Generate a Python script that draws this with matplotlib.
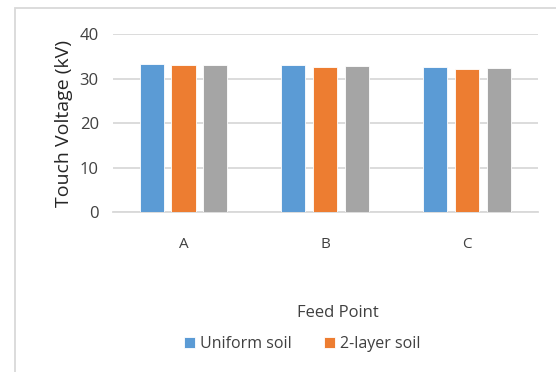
import matplotlib.pyplot as plt
import numpy as np
from matplotlib.patches import Rectangle

# dados
feed_points = ['A', 'B', 'C']
uniform_soil = [33.3, 33.1, 32.6]
two_layer_soil = [33.1, 32.6, 32.1]
third_series = [33.1, 32.8, 32.3]
series_names = ['Uniform soil', '2-layer soil', '']

cores = ['#5B9BD5', '#ED7D31', '#A5A5A5']
cinza_txt = '#404040'

plt.rcParams['font.family'] = ['Open Sans', 'DejaVu Sans']

fig = plt.figure(figsize=(5.56, 3.72), dpi=100)
ax = fig.add_axes([0.2027, 0.4301, 0.7644, 0.4785])

x = np.arange(len(feed_points))
largura = 0.17
passo = 0.225
barras = []
for i, (vals, nome) in enumerate(zip([uniform_soil, two_layer_soil, third_series], series_names)):
    b = ax.bar(x + (i - 1) * passo, vals, largura, color=cores[i],
               edgecolor='white', linewidth=0.6, label=nome, zorder=3)
    barras.append(b)

ax.set_xlim(-0.5, len(feed_points) - 0.5)
ax.set_ylim(0, 40)
ax.set_yticks([0, 10, 20, 30, 40])
ax.yaxis.grid(True, color='#d9d9d9', linewidth=1.3, zorder=0)
for s in ['top', 'right', 'left']:
    ax.spines[s].set_visible(False)
ax.spines['bottom'].set_color('#d9d9d9')
ax.spines['bottom'].set_linewidth(1.3)
ax.tick_params(axis='both', length=0, colors=cinza_txt)
ax.tick_params(axis='y', labelsize=12, pad=10)
ax.tick_params(axis='x', labelsize=11, pad=18)
ax.set_xticks(x)
ax.set_xticklabels(feed_points)

ax.set_ylabel('Touch Voltage (kV)', fontsize=14, color='#262626', labelpad=5)
fig.text(338 / 556, 1 - 313 / 372, 'Feed Point', ha='center', va='center',
         fontsize=12, color=cinza_txt)

fig.legend(handles=barras[:2], labels=series_names[:2], loc='center',
           bbox_to_anchor=(302 / 556, 1 - 344 / 372), ncol=2, frameon=False,
           fontsize=11.5, handlelength=0.7, handleheight=0.7, handletextpad=0.3,
           columnspacing=2.0, labelcolor=cinza_txt)

# moldura do gráfico (só topo e esquerda visíveis)
fig.patches.append(Rectangle((15 / 556, -0.1), 1.2, 1 - 8 / 372 + 0.1,
                             transform=fig.transFigure, fill=False,
                             edgecolor='#d9d9d9', linewidth=1.3))

fig.savefig('out.png', dpi=100)
